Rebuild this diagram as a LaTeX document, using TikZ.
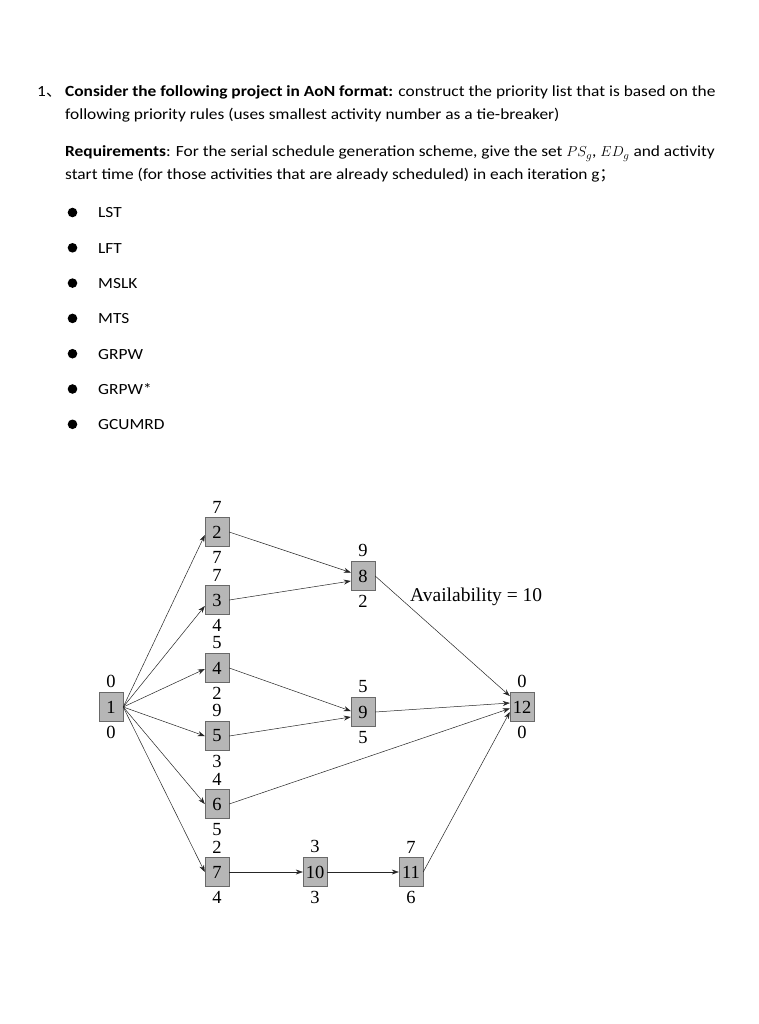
\documentclass[tikz,border=0pt]{standalone}
\usepackage{fontspec}
\setmainfont{Carlito}[FakeStretch=1.12]
\newfontfamily\cjkfont{Noto Sans CJK SC}
\newfontfamily\netfont{Liberation Serif}
\usepackage{tikz}
\usetikzlibrary{arrows.meta}
\definecolor{boxgray}{RGB}{182,182,182}
\definecolor{boxline}{RGB}{105,105,105}

\begin{document}
\begin{tikzpicture}[x=1pt, y=-1pt,
    txt/.style={anchor=base west, inner sep=0pt, font=\fontsize{15.5}{18}\selectfont},
    act/.style={draw=boxline, fill=boxgray, minimum width=24pt, minimum height=29pt,
      inner sep=0pt, font=\netfont\fontsize{18.5}{20}\selectfont},
    every label/.style={inner sep=0pt, font=\netfont\fontsize{18.5}{20}\selectfont},
    label distance=4pt,
    link/.style={-{Stealth[length=7pt,width=5pt]}, draw=black!85, line width=0.5pt}]
    \useasboundingbox[fill=white] (0,0) rectangle (759,1024);

    % Question text
    \node[txt] (num) at (37,97) {1{\cjkfont 、}};
    \node[txt] (l1) at (65,97) {\textbf{Consider the following project in AoN format:} construct the priority list that is based on the};
    \node[txt] (l2) at (65,120) {following priority rules (uses smallest activity number as a tie-breaker)};
    \node[txt] (l3) at (65,157) {\textbf{Requirements}: For the serial schedule generation scheme, give the set $PS_g$, $ED_g$ and activity};
    \node[txt] (l4) at (65,180) {start time (for those activities that are already scheduled) in each iteration g{\cjkfont ；}};

    % Priority rules
    \foreach \rname [count=\k] in {LST, LFT, MSLK, MTS, GRPW, GRPW*, GCUMRD} {
      \fill (72.5,{212.5+(\k-1)*35.3}) circle (4.8pt);
      \node[txt] (r\k) at (98,{218+(\k-1)*35.3}) {\rname};
    }

    % Activities
    \node[act, label=above:0, label=below:0] (a1) at (111,707) {1};
    \node[act, label=above:7, label=below:7] (a2) at (217,532) {2};
    \node[act, label=above:7, label=below:4] (a3) at (217,600) {3};
    \node[act, label=above:5, label=below:2] (a4) at (217,668) {4};
    \node[act, label=above:9, label=below:3] (a5) at (217,736) {5};
    \node[act, label=above:4, label=below:5] (a6) at (217,804) {6};
    \node[act, label=above:2, label=below:4] (a7) at (217,872) {7};
    \node[act, label=above:9, label=below:2] (a8) at (363,576) {8};
    \node[act, label=above:5, label=below:5] (a9) at (363,712) {9};
    \node[act, label=above:3, label=below:3] (a10) at (315,872) {10};
    \node[act, label=above:7, label=below:6] (a11) at (411,872) {11};
    \node[act, label=above:0, label=below:0] (a12) at (522,707) {12};

    \node[anchor=west, inner sep=0pt, font=\netfont\fontsize{19.5}{21}\selectfont] (avail) at (410,597) {Availability = 10};

    % Precedence relations
    \foreach \t/\s in {a2/-3pt, a3/-6pt, a4/-1pt, a5/0pt, a6/0pt, a7/0pt}
      \draw[link] (a1.east) -- ([yshift=\s]\t.west);
    \draw[link] (a2.east) -- ([yshift=3.5pt]a8.west);
    \draw[link] (a3.east) -- ([yshift=-5pt]a8.west);
    \draw[link] (a4.east) -- ([yshift=1pt]a9.west);
    \draw[link] (a5.east) -- ([yshift=-5pt]a9.west);
    \draw[link] (a8.east) -- ([yshift=11pt]a12.west);
    \draw[link] (a9.east) -- ([yshift=4pt]a12.west);
    \draw[link] (a6.east) -- ([yshift=-1.5pt]a12.west);
    \draw[link] (a11.east) -- ([yshift=-5pt]a12.west);
    \draw[link] (a7) -- (a10);
    \draw[link] (a10) -- (a11);
\end{tikzpicture}
\end{document}
